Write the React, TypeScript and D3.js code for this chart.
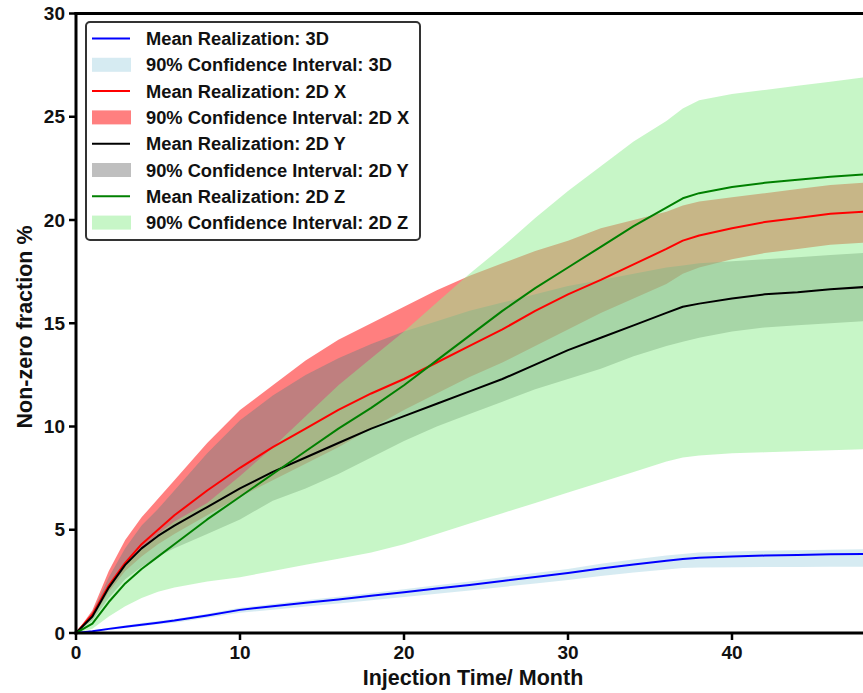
import React from "react";
import * as d3 from "d3";

const months = [0, 1, 2, 3, 4, 5, 6, 8, 10, 12, 14, 16, 18, 20, 22, 24, 26, 28, 30, 32, 34, 36, 37, 38, 40, 42, 44, 46, 48];

const mean3D = [0, 0.08, 0.2, 0.3, 0.4, 0.5, 0.6, 0.85, 1.12, 1.3, 1.46, 1.62, 1.8, 1.97, 2.15, 2.33, 2.52, 2.71, 2.9, 3.12, 3.32, 3.5, 3.58, 3.64, 3.71, 3.75, 3.78, 3.81, 3.83];
const upper3D = [0, 0.1, 0.25, 0.36, 0.48, 0.58, 0.68, 0.93, 1.22, 1.41, 1.58, 1.75, 1.94, 2.12, 2.31, 2.5, 2.7, 2.9, 3.1, 3.35, 3.56, 3.75, 3.83, 3.9, 3.95, 3.98, 4.01, 4.03, 4.05];
const lower3D = [0, 0.05, 0.14, 0.24, 0.33, 0.42, 0.5, 0.74, 0.98, 1.13, 1.28, 1.43, 1.58, 1.74, 1.9, 2.06, 2.23, 2.4, 2.57, 2.76, 2.93, 3.08, 3.15, 3.17, 3.19, 3.2, 3.2, 3.21, 3.21];

const meanX = [0, 0.9, 2.3, 3.4, 4.3, 5.0, 5.7, 6.9, 8.0, 9.0, 9.9, 10.8, 11.6, 12.3, 13.1, 13.9, 14.7, 15.6, 16.4, 17.1, 17.85, 18.6, 19.0, 19.25, 19.6, 19.9, 20.1, 20.3, 20.4];
const upperX = [0, 1.1, 3.0, 4.5, 5.6, 6.5, 7.4, 9.2, 10.8, 12.0, 13.2, 14.2, 15.0, 15.8, 16.6, 17.3, 17.9, 18.5, 19.0, 19.6, 20.0, 20.4, 20.7, 20.9, 21.1, 21.3, 21.5, 21.7, 21.8];
const lowerX = [0, 0.7, 2.0, 3.0, 3.7, 4.3, 4.8, 5.7, 6.6, 7.4, 8.2, 9.0, 9.9, 10.8, 11.6, 12.4, 13.1, 13.9, 14.7, 15.5, 16.2, 16.9, 17.4, 17.7, 18.1, 18.4, 18.6, 18.8, 18.9];

const meanY = [0, 0.8, 2.2, 3.3, 4.1, 4.7, 5.2, 6.1, 7.0, 7.8, 8.5, 9.2, 9.9, 10.5, 11.1, 11.7, 12.3, 13.0, 13.7, 14.3, 14.9, 15.5, 15.8, 15.95, 16.2, 16.4, 16.5, 16.65, 16.75];
const upperY = [0, 1.0, 2.7, 4.1, 5.2, 6.0, 6.9, 8.7, 10.3, 11.5, 12.5, 13.3, 14.0, 14.6, 15.1, 15.6, 16.0, 16.4, 16.8, 17.1, 17.4, 17.7, 17.8, 17.9, 18.0, 18.1, 18.2, 18.3, 18.4];
const lowerY = [0, 0.6, 1.7, 2.6, 3.2, 3.7, 4.1, 4.8, 5.5, 6.4, 7.0, 7.7, 8.5, 9.3, 10.0, 10.6, 11.2, 11.8, 12.3, 12.8, 13.4, 13.9, 14.1, 14.3, 14.6, 14.8, 14.9, 15.0, 15.1];

const meanZ = [0, 0.45, 1.5, 2.4, 3.1, 3.7, 4.3, 5.5, 6.6, 7.7, 8.8, 9.9, 10.9, 12.0, 13.2, 14.4, 15.6, 16.7, 17.7, 18.7, 19.7, 20.6, 21.05, 21.3, 21.6, 21.8, 21.95, 22.1, 22.2];
const upperZ = [0, 0.8, 2.2, 3.3, 4.1, 4.8, 5.4, 6.3, 7.6, 9.0, 10.5, 12.0, 13.3, 14.6, 16.0, 17.4, 18.7, 20.1, 21.4, 22.6, 23.8, 24.8, 25.4, 25.8, 26.1, 26.3, 26.5, 26.7, 26.9];
const lowerZ = [0, 0.2, 0.8, 1.3, 1.7, 2.0, 2.2, 2.5, 2.7, 3.0, 3.3, 3.6, 3.9, 4.3, 4.8, 5.3, 5.8, 6.3, 6.8, 7.3, 7.8, 8.3, 8.5, 8.6, 8.7, 8.75, 8.8, 8.85, 8.9];

const xTicks = [0, 10, 20, 30, 40];
const yTicks = [0, 5, 10, 15, 20, 25, 30];

const legendLabels = [
  "Mean Realization: 3D",
  "90% Confidence Interval: 3D",
  "Mean Realization: 2D X",
  "90% Confidence Interval: 2D X",
  "Mean Realization: 2D Y",
  "90% Confidence Interval: 2D Y",
  "Mean Realization: 2D Z",
  "90% Confidence Interval: 2D Z",
];

const W = 863;
const H = 693;
const FONT = "'Liberation Sans', Arial, Helvetica, sans-serif";

export default function App() {
  const x = d3.scaleLinear().domain([0, 48]).range([76, 863.2]);
  const y = d3.scaleLinear().domain([0, 30]).range([633, 13.5]);

  const series = [
    { mean: mean3D, lo: lower3D, hi: upper3D, line: "#0000ff", fill: "#add8e6" },
    { mean: meanX, lo: lowerX, hi: upperX, line: "#ff0000", fill: "#ff0000" },
    { mean: meanY, lo: lowerY, hi: upperY, line: "#000000", fill: "#808080" },
    { mean: meanZ, lo: lowerZ, hi: upperZ, line: "#008000", fill: "#90ee90" },
  ];

  const area = (lo: number[], hi: number[]) =>
    d3
      .area<number>()
      .x((d) => x(d))
      .y0((_, i) => y(lo[i]))
      .y1((_, i) => y(hi[i]))(months) as string;
  const line = (v: number[]) =>
    d3
      .line<number>()
      .x((d) => x(d))
      .y((_, i) => y(v[i]))(months) as string;

  const legendX = 86;
  const legendY = 22;
  const rowH = 26.3;

  return (
    <svg
      width={W}
      height={H}
      style={{ position: "absolute", left: 0, top: 0, background: "#fff" }}
    >
      <defs>
        <clipPath id="plotClip">
          <rect x={76} y={13.5} width={W - 76} height={633 - 13.5} />
        </clipPath>
      </defs>
      <rect x={0} y={0} width={W} height={H} fill="#fff" />
      <text x={246} y={-8} fill="#ff0000" fontSize={34} fontWeight="bold" fontFamily="'Liberation Serif', serif">
        p
      </text>
      <g clipPath="url(#plotClip)">
        {series.map((s, i) => (
          <path key={"a" + i} d={area(s.lo, s.hi)} fill={s.fill} fillOpacity={0.5} stroke="none" />
        ))}
        {series.map((s, i) => (
          <path key={"l" + i} d={line(s.mean)} fill="none" stroke={s.line} strokeWidth={2} strokeLinejoin="round" />
        ))}
      </g>
      {/* spines */}
      <line x1={76} x2={76} y1={12} y2={634.5} stroke="#000" strokeWidth={3} />
      <line x1={74.5} x2={W} y1={633} y2={633} stroke="#000" strokeWidth={3} />
      <line x1={74.5} x2={W} y1={13.5} y2={13.5} stroke="#000" strokeWidth={3} />
      {/* y ticks */}
      {yTicks.map((t) => (
        <g key={"yt" + t}>
          <line x1={69} x2={76} y1={y(t)} y2={y(t)} stroke="#000" strokeWidth={2.5} />
          <text
            x={65}
            y={y(t)}
            dy="0.35em"
            textAnchor="end"
            fontSize={19}
            fontWeight="bold"
            fontFamily={FONT}
            fill="#111"
          >
            {t}
          </text>
        </g>
      ))}
      {/* x ticks */}
      {xTicks.map((t) => (
        <g key={"xt" + t}>
          <line x1={x(t)} x2={x(t)} y1={633} y2={640} stroke="#000" strokeWidth={2.5} />
          <text
            x={x(t)}
            y={659}
            textAnchor="middle"
            fontSize={19}
            fontWeight="bold"
            fontFamily={FONT}
            fill="#111"
          >
            {t}
          </text>
        </g>
      ))}
      <text
        x={473}
        y={685}
        textAnchor="middle"
        fontSize={21.5}
        fontWeight="bold"
        fontFamily={FONT}
        fill="#111"
      >
        Injection Time/ Month
      </text>
      <text
        transform={`translate(32, 327) rotate(-90)`}
        textAnchor="middle"
        fontSize={21.5}
        fontWeight="bold"
        fontFamily={FONT}
        fill="#111"
      >
        Non-zero fraction %
      </text>
      {/* legend */}
      <rect
        x={legendX}
        y={legendY}
        width={334}
        height={218}
        rx={4}
        fill="#fff"
        fillOpacity={0.85}
        stroke="#333"
        strokeWidth={2}
      />
      {legendLabels.map((lab, i) => {
        const cy = legendY + 16.5 + i * rowH;
        const s = series[Math.floor(i / 2)];
        const isLine = i % 2 === 0;
        return (
          <g key={"lg" + i}>
            {isLine ? (
              <line x1={92} x2={130} y1={cy} y2={cy} stroke={s.line} strokeWidth={2} />
            ) : (
              <rect x={92} y={cy - 7} width={39} height={14} fill={s.fill} fillOpacity={0.5} />
            )}
            <text
              x={146}
              y={cy}
              dy="0.36em"
              fontSize={18.3}
              fontWeight="bold"
              fontFamily={FONT}
              fill="#111"
            >
              {lab}
            </text>
          </g>
        );
      })}
    </svg>
  );
}
